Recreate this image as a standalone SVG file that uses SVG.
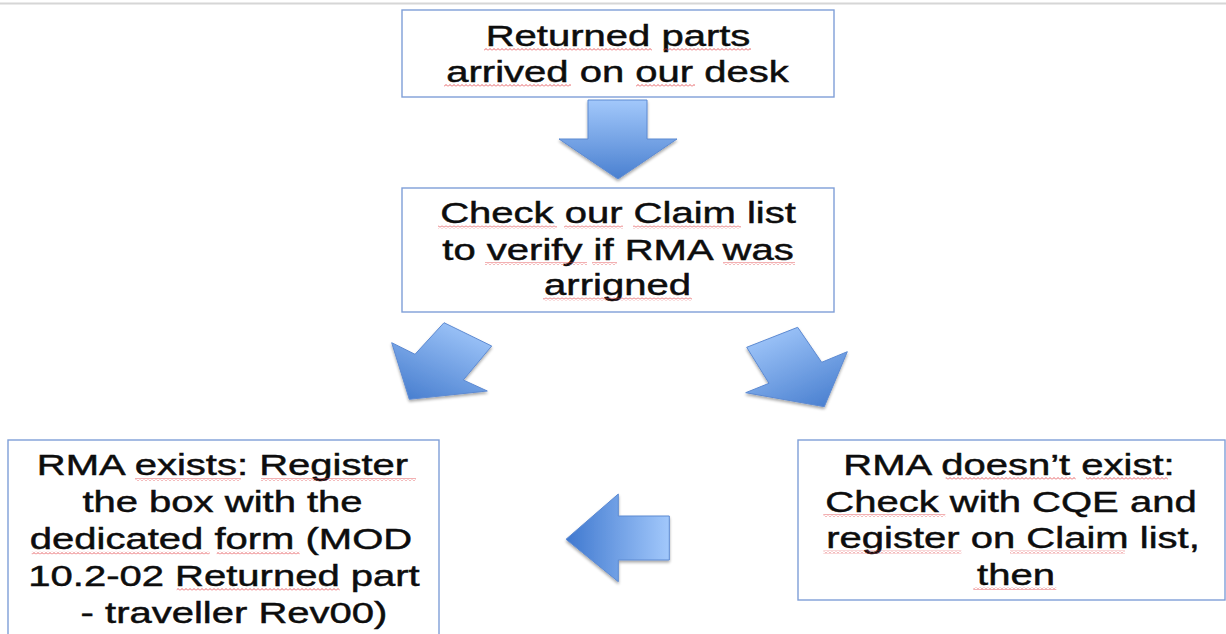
<svg xmlns="http://www.w3.org/2000/svg" width="1226" height="634" viewBox="0 0 1226 634">
  <style>
    .box { fill: #ffffff; stroke: #7f9fd8; stroke-width: 1.4; }
    .lbl { font-family: "Liberation Sans", Arial, sans-serif; font-size: 29px; fill: #0d0d0d; stroke: #0d0d0d; stroke-width: 0.45; text-anchor: middle; }
    .arrow { stroke: #5d8ad2; stroke-width: 1; stroke-linejoin: miter; filter: url(#shadow); }
    .spell { fill: url(#wavy); }
  </style>
  <defs>
    <linearGradient id="gDown" x1="0" y1="0" x2="0" y2="1">
      <stop offset="0" stop-color="#a2c8fb"/>
      <stop offset="1" stop-color="#4a80d0"/>
    </linearGradient>
    <linearGradient id="gLeft" x1="1" y1="0" x2="0" y2="0">
      <stop offset="0" stop-color="#a2c8fb"/>
      <stop offset="1" stop-color="#3f78cf"/>
    </linearGradient>
    <linearGradient id="gDiagL" x1="0.8" y1="0" x2="0.2" y2="1">
      <stop offset="0" stop-color="#a2c8fb"/>
      <stop offset="1" stop-color="#4a80d0"/>
    </linearGradient>
    <linearGradient id="gDiagR" x1="0.2" y1="0" x2="0.8" y2="1">
      <stop offset="0" stop-color="#a2c8fb"/>
      <stop offset="1" stop-color="#4a80d0"/>
    </linearGradient>
    <filter id="shadow" x="-20%" y="-20%" width="150%" height="150%">
      <feGaussianBlur in="SourceAlpha" stdDeviation="1.8"/>
      <feOffset dx="0" dy="2" result="b"/>
      <feComponentTransfer><feFuncA type="linear" slope="0.35"/></feComponentTransfer>
      <feMerge><feMergeNode/><feMergeNode in="SourceGraphic"/></feMerge>
    </filter>
    <!-- spell-check squiggle -->
    <pattern id="wavy" x="0" y="0" width="4" height="3" patternUnits="userSpaceOnUse">
      <path d="M0 2.5 L2 0.5 L4 2.5" fill="none" stroke="#e0393e" stroke-width="0.8"/>
    </pattern>
  </defs>

  <rect width="1226" height="634" fill="#ffffff"/>
  <line x1="0" y1="3.5" x2="1226" y2="3.5" stroke="#d6d6d6" stroke-width="2"/>

  <!-- Connectors: block arrows -->
  <g id="connectors">
    <polygon class="arrow" fill="url(#gDown)" points="588,100 647,100 647,139 677,139 618,179 559,139 588,139"/>
    <polygon class="arrow" fill="url(#gDiagL)" points="444,322.7 491.7,346 463.3,380 487.3,391 409.3,399.3 391.7,342.7 415,354.3"/>
    <polygon class="arrow" fill="url(#gDiagR)" points="746.7,347.3 797.7,327.3 821.7,362.3 847.3,351.7 824.3,406.7 745.7,392.7 769,383.3"/>
    <polygon class="arrow" fill="url(#gLeft)" points="566,539.3 618.3,494 618.3,516 669.3,516 669.3,560 618.3,560 618.3,581.7"/>
  </g>

  <!-- labels are drawn wide: each line is scaled 1.38x horizontally about its centre -->
  <g id="node-arrived">
    <rect class="box" x="402" y="10" width="432" height="87"/>
    <text class="lbl" transform="translate(618 46) scale(1.38 1)">Returned parts</text>
    <text class="lbl" transform="translate(617.5 81.7) scale(1.38 1)">arrived on our desk</text>
    <rect class="spell" x="484" y="48" width="168" height="3"/>
    <rect class="spell" x="663" y="48" width="88" height="3"/>
    <rect class="spell" x="444" y="84" width="127" height="3"/>
    <rect class="spell" x="636" y="84" width="59" height="3"/>
  </g>

  <g id="node-check">
    <rect class="box" x="402" y="188" width="432" height="124"/>
    <text class="lbl" transform="translate(618 223.3) scale(1.38 1)">Check our Claim list</text>
    <text class="lbl" transform="translate(618 260) scale(1.38 1)">to verify if RMA was</text>
    <text class="lbl" transform="translate(617.5 295) scale(1.38 1)">arrigned</text>
    <rect class="spell" x="438" y="225.5" width="119" height="3"/>
    <rect class="spell" x="564" y="225.5" width="59" height="3"/>
    <rect class="spell" x="633" y="225.5" width="108" height="3"/>
    <rect class="spell" x="485" y="262" width="102" height="3"/>
    <rect class="spell" x="592" y="262" width="25" height="3"/>
    <rect class="spell" x="723" y="262" width="72" height="3"/>
    <rect class="spell" x="543" y="297.5" width="149" height="3"/>
  </g>

  <g id="node-exists">
    <rect class="box" x="8" y="440" width="431" height="200"/>
    <text class="lbl" transform="translate(222.5 475) scale(1.38 1)">RMA exists: Register</text>
    <text class="lbl" transform="translate(222.5 511.7) scale(1.38 1)">the box with the</text>
    <text class="lbl" transform="translate(221 549) scale(1.38 1)">dedicated form (MOD</text>
    <text class="lbl" transform="translate(224 585.7) scale(1.38 1)">10.2-02 Returned part</text>
    <text class="lbl" transform="translate(234 622.7) scale(1.38 1)">- traveller Rev00)</text>
    <rect class="spell" x="135" y="478" width="106" height="3"/>
    <rect class="spell" x="261" y="478" width="155" height="3"/>
    <rect class="spell" x="31.7" y="551.5" width="178" height="3"/>
    <rect class="spell" x="216.7" y="551.5" width="83" height="3"/>
    <rect class="spell" x="176.7" y="588" width="163" height="3"/>
  </g>

  <g id="node-missing">
    <rect class="box" x="798" y="440" width="427" height="160"/>
    <text class="lbl" transform="translate(1009 475) scale(1.38 1)">RMA doesn’t exist:</text>
    <text class="lbl" transform="translate(1011 511.7) scale(1.38 1)">Check with CQE and</text>
    <text class="lbl" transform="translate(1013 548.3) scale(1.38 1)">register on Claim list,</text>
    <text class="lbl" transform="translate(1016 585) scale(1.38 1)">then</text>
    <rect class="spell" x="945.7" y="477" width="130" height="3"/>
    <rect class="spell" x="1086" y="477" width="82" height="3"/>
    <rect class="spell" x="823.3" y="514" width="122" height="3"/>
    <rect class="spell" x="823.3" y="550.5" width="138" height="3"/>
    <rect class="spell" x="1010" y="550.5" width="115" height="3"/>
    <rect class="spell" x="973.3" y="587" width="83" height="3"/>
  </g>
</svg>
